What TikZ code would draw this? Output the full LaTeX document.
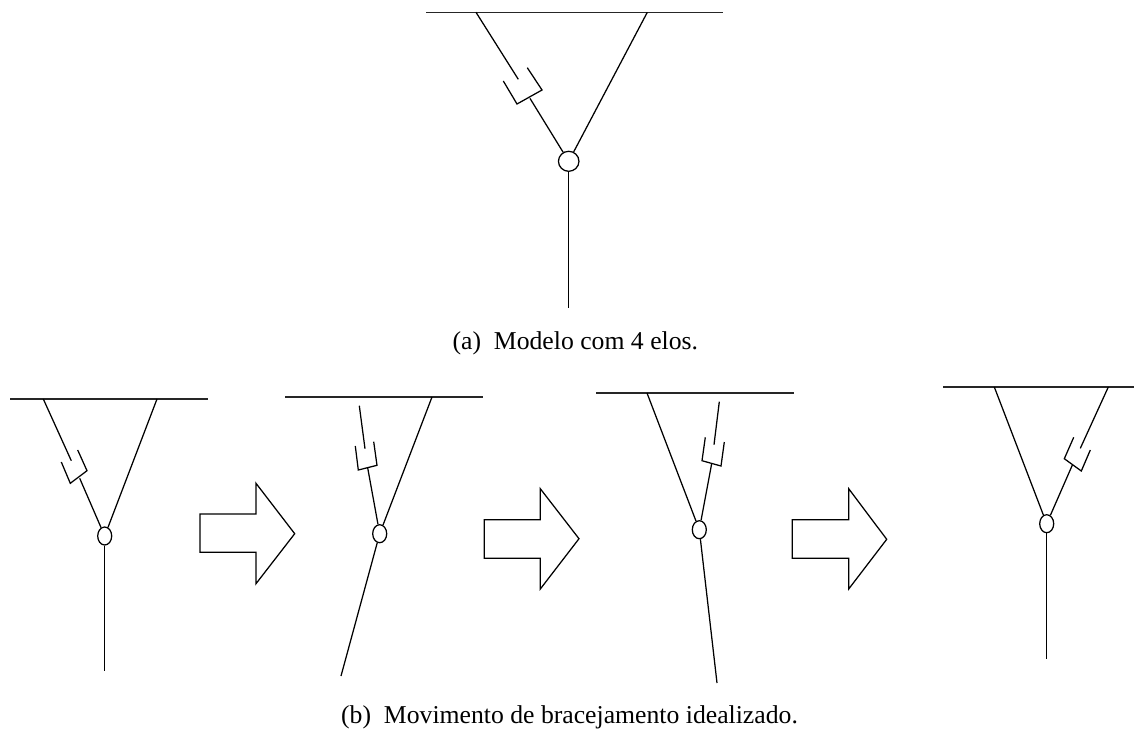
\documentclass[tikz,border=0pt]{standalone}
\usepackage{fontspec}
\setmainfont{Liberation Serif}
\usetikzlibrary{shapes.geometric}
\tikzset{
  line/.style={draw=black,line width=1.25pt},
  bar/.style={draw=black!85,line width=1.5pt},
  joint/.style={ellipse,draw=black,line width=1.25pt,inner sep=0pt,fill=none},
  bigjoint/.style={joint,minimum width=20.5pt,minimum height=20pt},
  smalljoint/.style={joint,minimum width=14pt,minimum height=18pt},
  captext/.style={font=\fontsize{25.7}{30}\selectfont,inner sep=0pt,anchor=base},
}
\begin{document}
\begin{tikzpicture}[x=1pt,y=-1pt]
\useasboundingbox (0,0) rectangle (1134,729);
% (a)
\node[bigjoint] (ja) at (568.7,161.3) {};
\coordinate (ba1) at (426,12.3); \coordinate (ba2) at (723,12.3);
\coordinate (la) at (476,12.3); \coordinate (lae) at (518.3,79.3);
\coordinate (ra) at (647.3,12.3);
\coordinate (ca1) at (503.3,81); \coordinate (ca2) at (517,104);
\coordinate (ca3) at (542,90); \coordinate (ca4) at (527.3,67.7);
\coordinate (ma) at (530,98.4); \coordinate (ea) at (568.7,308);
\draw[bar] (ba1) -- (ba2);
\draw[line] (la) -- (lae);
\draw[line] (ca1) -- (ca2) -- (ca3) -- (ca4);
\draw[line] (ma) -- (ja);
\draw[line] (ra) -- (ja);
\draw[line] (ja) -- (ea);
\node[captext] (capa) at (575.3,349.3) {(a)\hspace{0.5em}Modelo com 4 elos.};
% (b) panel 1
\node[smalljoint] (j1) at (104.7,536) {};
\coordinate (b11) at (10,399); \coordinate (b12) at (207.7,399);
\coordinate (l1) at (43.3,399); \coordinate (l1e) at (71.3,460.7);
\coordinate (r1) at (157,399);
\coordinate (c11) at (61.3,462); \coordinate (c12) at (70.3,483.3);
\coordinate (c13) at (87,470.7); \coordinate (c14) at (77.7,450);
\coordinate (m1) at (79.7,478.3); \coordinate (e1) at (104.7,671);
\draw[bar] (b11) -- (b12);
\draw[line] (l1) -- (l1e);
\draw[line] (c11) -- (c12) -- (c13) -- (c14);
\draw[line] (m1) -- (j1);
\draw[line] (r1) -- (j1);
\draw[line] (j1) -- (e1);
% arrow 1
\draw[line] (200,514) -- (256,514) -- (256,483.3) -- (294.7,533.7) -- (256,583.7) -- (256,552.3) -- (200,552.3) -- cycle;
% panel 2
\node[smalljoint] (j2) at (379.7,533.7) {};
\coordinate (b21) at (285,397); \coordinate (b22) at (482.7,397);
\coordinate (l2) at (359.3,405.7); \coordinate (l2e) at (365,448.7);
\coordinate (r2) at (432,397);
\coordinate (c21) at (355.3,446); \coordinate (c22) at (358.3,470);
\coordinate (c23) at (377,465.3); \coordinate (c24) at (373.7,441.7);
\coordinate (m2) at (367.7,468); \coordinate (e2) at (341,676);
\draw[bar] (b21) -- (b22);
\draw[line] (l2) -- (l2e);
\draw[line] (c21) -- (c22) -- (c23) -- (c24);
\draw[line] (m2) -- (j2);
\draw[line] (r2) -- (j2);
\draw[line] (j2) -- (e2);
% arrow 2
\draw[line] (484.3,519.7) -- (540.3,519.7) -- (540.3,488.7) -- (579,538.7) -- (540.3,589) -- (540.3,558.2) -- (484.3,558.2) -- cycle;
% panel 3
\node[smalljoint] (j3) at (699.3,529.7) {};
\coordinate (b31) at (596,393); \coordinate (b32) at (794,393);
\coordinate (l3) at (647,393);
\coordinate (r3) at (719.3,401.7); \coordinate (r3e) at (714,444.7);
\coordinate (c31) at (705.3,437.3); \coordinate (c32) at (702,460.7);
\coordinate (c33) at (721,466); \coordinate (c34) at (724.3,442);
\coordinate (m3) at (711.7,463.5); \coordinate (e3) at (717,683);
\draw[bar] (b31) -- (b32);
\draw[line] (r3) -- (r3e);
\draw[line] (c31) -- (c32) -- (c33) -- (c34);
\draw[line] (m3) -- (j3);
\draw[line] (l3) -- (j3);
\draw[line] (j3) -- (e3);
% arrow 3
\draw[line] (792.3,519.7) -- (848.7,519.7) -- (848.7,488.7) -- (886.7,539.3) -- (848.7,589) -- (848.7,558.3) -- (792.3,558.3) -- cycle;
% panel 4
\node[smalljoint] (j4) at (1046.7,523.7) {};
\coordinate (b41) at (943.3,387); \coordinate (b42) at (1134,387);
\coordinate (l4) at (994.3,387);
\coordinate (r4) at (1108.3,387); \coordinate (r4e) at (1080.3,448.3);
\coordinate (c41) at (1073.7,437.3); \coordinate (c42) at (1064.3,458.7);
\coordinate (c43) at (1081.3,471); \coordinate (c44) at (1090.3,450);
\coordinate (m4) at (1072.5,464.7); \coordinate (e4) at (1046.7,659);
\draw[bar] (b41) -- (b42);
\draw[line] (r4) -- (r4e);
\draw[line] (c41) -- (c42) -- (c43) -- (c44);
\draw[line] (m4) -- (j4);
\draw[line] (l4) -- (j4);
\draw[line] (j4) -- (e4);
\node[captext] (capb) at (569.5,723) {(b)\hspace{0.5em}Movimento de bracejamento idealizado.};
\end{tikzpicture}
\end{document}
